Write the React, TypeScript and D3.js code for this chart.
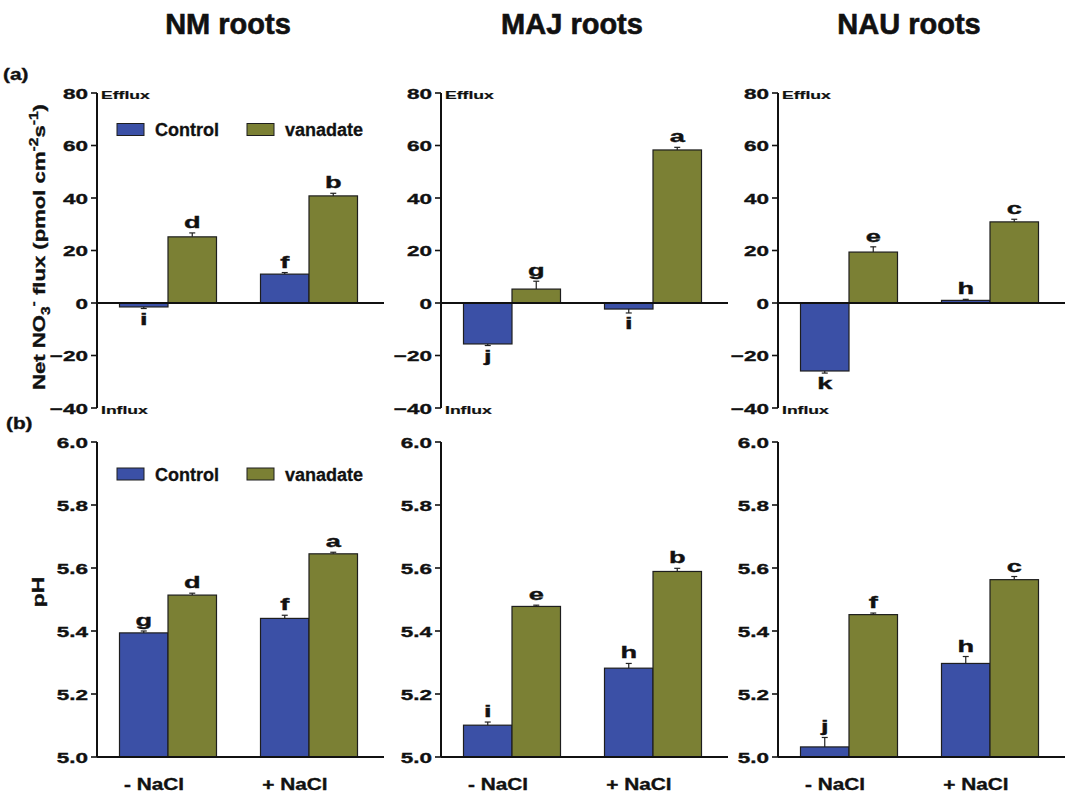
import React from "react";
import * as d3 from "d3";

// ---------------- DATA ----------------
const cultivars = ["NM roots", "MAJ roots", "NAU roots"];
const groups = ["- NaCl", "+ NaCl"];
const seriesNames = ["Control", "vanadate"];

// Net NO3- flux, [-NaCl, +NaCl] per cultivar
const fluxControl = [[-1.5, 11.0], [-15.6, -2.3], [-25.9, 1.0]];
const fluxControlErr = [[0.6, 0.6], [0.6, 1.5], [0.8, 0.4]];
const fluxVanadate = [[25.2, 40.8], [5.3, 58.3], [19.4, 30.9]];
const fluxVanadateErr = [[1.5, 1.0], [3.0, 1.0], [2.0, 1.0]];
const fluxControlLetters = [["i", "f"], ["j", "i"], ["k", "h"]];
const fluxVanadateLetters = [["d", "b"], ["g", "a"], ["e", "c"]];

// pH
const phControl = [[5.394, 5.44], [5.101, 5.282], [5.032, 5.297]];
const phControlErr = [[0.006, 0.01], [0.01, 0.015], [0.03, 0.022]];
const phVanadate = [[5.514, 5.645], [5.478, 5.589], [5.452, 5.563]];
const phVanadateErr = [[0.006, 0.005], [0.004, 0.01], [0.005, 0.01]];
const phControlLetters = [["g", "f"], ["i", "h"], ["j", "h"]];
const phVanadateLetters = [["d", "a"], ["e", "b"], ["f", "c"]];

const fluxTicks = [-40, -20, 0, 20, 40, 60, 80];
const phTicks = [5.0, 5.2, 5.4, 5.6, 5.8, 6.0];

// ---------------- STYLE / LAYOUT ----------------
const W = 1068;
const H = 798;
const FONT = "'Liberation Sans', Arial, Helvetica, sans-serif";
const BLUE = "#3b50a6";
const OLIVE = "#7b8034";
const colors = [BLUE, OLIVE];

const axisXs = [97, 441, 778];
const panelSpan = 287;

const yFlux = d3.scaleLinear().domain([-40, 80]).range([408, 93]);
const yPh = d3.scaleLinear().domain([5.0, 6.0]).range([757, 442]);

function ScaledText(props: {
  x: number; y: number; sx?: number; size: number; anchor?: string; children: any; rotate?: number; thick?: number;
}) {
  const { x, y, sx = 1, size, anchor = "middle", children, rotate = 0, thick = 0.35 } = props;
  const tr = `translate(${x},${y})` + (rotate ? ` rotate(${rotate})` : "") + ` scale(${sx},1)`;
  return (
    <text transform={tr} fontSize={size} fontFamily={FONT} fontWeight="bold" textAnchor={anchor}
      fill="#111" stroke="#111" strokeWidth={thick}>
      {children}
    </text>
  );
}

type PanelProps = {
  ci: number;
  kind: "flux" | "ph";
};

function Panel({ ci, kind }: PanelProps) {
  const ax = axisXs[ci];
  const y = kind === "flux" ? yFlux : yPh;
  const ticks = kind === "flux" ? fluxTicks : phTicks;
  const base = kind === "flux" ? 0 : 5.0;
  const vals = kind === "flux" ? [fluxControl[ci], fluxVanadate[ci]] : [phControl[ci], phVanadate[ci]];
  const errs = kind === "flux" ? [fluxControlErr[ci], fluxVanadateErr[ci]] : [phControlErr[ci], phVanadateErr[ci]];
  const letters = kind === "flux"
    ? [fluxControlLetters[ci], fluxVanadateLetters[ci]]
    : [phControlLetters[ci], phVanadateLetters[ci]];

  const xg = d3.scalePoint<string>().domain(groups).range([ax + 71, ax + 212]);
  const xs = d3.scaleBand<string>().domain(seriesNames).range([-48.5, 48.5]).padding(0);
  const [yMin, yMax] = y.domain();
  const fmt = kind === "flux" ? d3.format("d") : d3.format(".1f");

  const marks: any[] = [];
  groups.forEach((g, gi) => {
    seriesNames.forEach((s, si) => {
      const v = vals[si][gi];
      const e = errs[si][gi];
      const x0 = (xg(g) as number) + (xs(s) as number);
      const bw = xs.bandwidth();
      const cx = x0 + bw / 2;
      const top = Math.min(y(v), y(base));
      const h = Math.abs(y(v) - y(base));
      const pos = v >= base;
      const errEnd = pos ? y(v + e) : y(v - e);
      marks.push(
        <g key={`${g}-${s}`}>
          <line x1={cx} x2={cx} y1={y(v)} y2={errEnd} stroke="#222" strokeWidth={1.2} />
          <line x1={cx - 3} x2={cx + 3} y1={errEnd} y2={errEnd} stroke="#222" strokeWidth={1.2} />
          <rect x={x0} y={top} width={bw} height={Math.max(h, 1)} fill={colors[si]} stroke="#1e1e1e" strokeWidth={1.2} />
          <ScaledText x={cx} y={pos ? errEnd - 5 : errEnd + 16} size={16} sx={1.7}>
            {letters[si][gi]}
          </ScaledText>
        </g>
      );
    });
  });

  return (
    <g>
      <line x1={ax} x2={ax} y1={y(yMax)} y2={y(yMin)} stroke="#111" strokeWidth={2} />
      {ticks.map((t) => (
        <g key={t}>
          <line x1={ax - 6} x2={ax} y1={y(t)} y2={y(t)} stroke="#111" strokeWidth={1.6} />
          <ScaledText x={ax - 9} y={y(t) + 5.5} size={15} sx={1.5} anchor="end">
            {fmt(t)}
          </ScaledText>
        </g>
      ))}
      {marks}
      <line x1={ax} x2={ax + panelSpan} y1={y(base)} y2={y(base)} stroke="#111" strokeWidth={2} />
      {kind === "flux" && (
        <>
          <ScaledText x={ax + 4} y={y(80) + 6} size={11} sx={1.6} anchor="start" thick={0.2}>Efflux</ScaledText>
          <ScaledText x={ax + 4} y={y(-40) + 6} size={11} sx={1.6} anchor="start" thick={0.2}>Influx</ScaledText>
        </>
      )}
      {kind === "ph" &&
        groups.map((g) => (
          <ScaledText key={g} x={(xg(g) as number) - 14} y={790} size={16} sx={1.3}>
            {g}
          </ScaledText>
        ))}
    </g>
  );
}

function Legend({ cy }: { cy: number }) {
  const xs = [117, 247];
  return (
    <g>
      {seriesNames.map((s, i) => (
        <g key={s}>
          <rect x={xs[i]} y={cy - 6} width={27} height={12} fill={colors[i]} stroke="#1e1e1e" strokeWidth={1} />
          <text x={xs[i] + 38} y={cy + 6.5} fontSize={18} fontFamily={FONT} fontWeight="bold"
            fill="#111" stroke="#111" strokeWidth={0.3}>
            {s}
          </text>
        </g>
      ))}
    </g>
  );
}

export default function App() {
  return (
    <svg width={W} height={H} style={{ position: "absolute", left: 0, top: 0, background: "#fff" }}>
      <rect width={W} height={H} fill="#fff" />
      {cultivars.map((c, i) => (
        <text key={c} x={axisXs[i] + 131} y={34} fontSize={29} fontFamily={FONT} fontWeight="bold"
          textAnchor="middle" fill="#111" stroke="#111" strokeWidth={0.6}>
          {c}
        </text>
      ))}
      <ScaledText x={3} y={80} size={16} sx={1.3} anchor="start">(a)</ScaledText>
      <ScaledText x={6} y={429} size={16} sx={1.3} anchor="start">(b)</ScaledText>

      <g transform={`translate(45,247) rotate(-90) scale(1.3,1)`}>
        <text fontSize={17} fontFamily={FONT} fontWeight="bold" textAnchor="middle" fill="#111" stroke="#111" strokeWidth={0.35}>
          <tspan>Net NO</tspan>
          <tspan fontSize={12} dy={5}>3</tspan>
          <tspan fontSize={12} dy={-12}>-</tspan>
          <tspan dy={7}> flux (pmol cm</tspan>
          <tspan fontSize={12} dy={-7}>-2</tspan>
          <tspan dy={7}>s</tspan>
          <tspan fontSize={12} dy={-7}>-1</tspan>
          <tspan dy={7}>)</tspan>
        </text>
      </g>
      <ScaledText x={44} y={592} size={17} sx={1.35} rotate={-90}>pH</ScaledText>

      {cultivars.map((c, i) => (
        <g key={c}>
          <Panel ci={i} kind="flux" />
          <Panel ci={i} kind="ph" />
        </g>
      ))}
      <Legend cy={129.5} />
      <Legend cy={474} />
    </svg>
  );
}
